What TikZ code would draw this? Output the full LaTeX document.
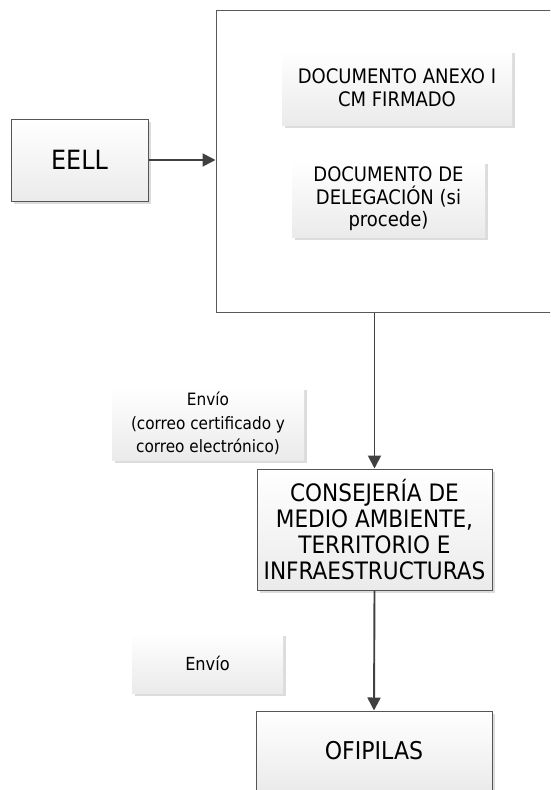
\documentclass[tikz,border=0pt]{standalone}
\usepackage{fontspec}
\setmainfont{DejaVu Sans Condensed}
\usetikzlibrary{arrows.meta,shadows}
\definecolor{lineC}{HTML}{404040}
\definecolor{borderC}{HTML}{555555}
\definecolor{shadowC}{HTML}{DCDCDC}
\tikzset{
  boxbase/.style={align=center, inner sep=2pt,
    top color=white, bottom color=black!8,
    drop shadow={shadow xshift=3pt, shadow yshift=-3pt, fill=shadowC, opacity=1}},
  framedbox/.style={boxbase, draw=borderC, line width=1pt},
  softbox/.style={boxbase},
  conn/.style={draw=lineC, line width=1.9pt, -{Triangle[length=13pt,width=13pt]}},
}
\begin{document}
\begin{tikzpicture}[x=1pt,y=-1pt]
\useasboundingbox (0,0) rectangle (550,790);
\clip (0,0) rectangle (550,790);
% big frame
\node[draw=black!65, line width=1pt, fill=white, minimum width=400pt, minimum height=302pt, inner sep=0pt] (frame) at (416,161) {};
% boxes
\node[framedbox, minimum width=137pt, minimum height=82pt, font=\fontsize{26.5}{30}\selectfont] (eell) at (79.5,160) {EELL};
\node[softbox, minimum width=230pt, minimum height=75pt, font=\fontsize{20}{23}\selectfont] (anexo) at (397,87.5) {DOCUMENTO ANEXO I\\CM FIRMADO};
\node[softbox, minimum width=193pt, minimum height=76pt, font=\fontsize{20}{22.5}\selectfont] (deleg) at (388.5,199) {DOCUMENTO DE\\DELEGACIÓN (si\\procede)};
\node[framedbox, minimum width=235pt, minimum height=121pt, font=\fontsize{24}{26.3}\selectfont] (cons) at (374.5,529.5) {CONSEJERÍA DE\\MEDIO AMBIENTE,\\TERRITORIO E\\INFRAESTRUCTURAS};
\node[softbox, minimum width=192pt, minimum height=73pt, font=\fontsize{17}{23.5}\selectfont] (envio1) at (208,423.5) {Envío\\(correo certificado y\\correo electrónico)};
\node[softbox, minimum width=151pt, minimum height=60pt, font=\fontsize{18}{23}\selectfont] (envio2) at (207.5,663) {Envío};
\node[framedbox, minimum width=236pt, minimum height=80pt, font=\fontsize{24.5}{28}\selectfont] (ofi) at (374,751) {OFIPILAS};
% connectors
\draw[conn] (eell.east) -- (frame.west |- eell.east);
\draw[conn] (cons.north |- frame.south) -- (cons.north);
\draw[conn] (cons.south) -- (ofi.north);
\end{tikzpicture}
\end{document}
